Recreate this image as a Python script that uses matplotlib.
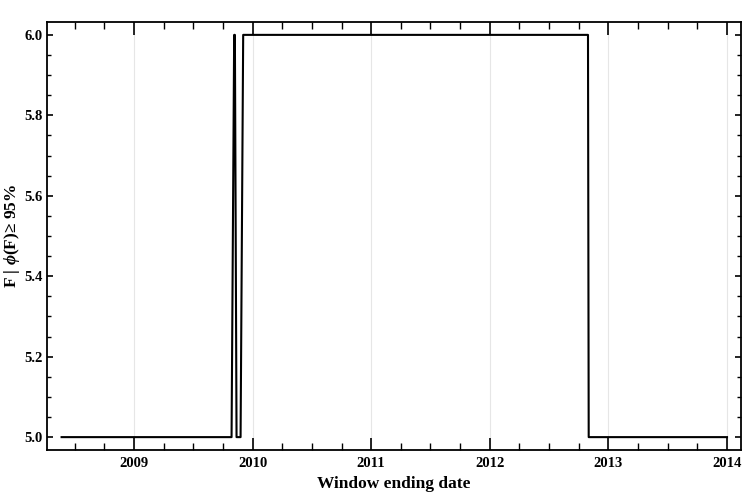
import matplotlib
matplotlib.use("Agg")
import matplotlib.pyplot as plt
from matplotlib.ticker import MultipleLocator

plt.rcParams['font.family'] = ['Liberation Serif', 'DejaVu Serif']
plt.rcParams['mathtext.fontset'] = 'custom'
plt.rcParams['mathtext.rm'] = 'Liberation Serif:bold'
plt.rcParams['mathtext.it'] = 'Liberation Serif:bold:italic'
plt.rcParams['mathtext.bf'] = 'Liberation Serif:bold'

# Window ending dates (decimal years) and F values at the step breakpoints
dates = [2008.39, 2009.823, 2009.845, 2009.851, 2009.865, 2009.899, 2009.921,
         2012.828, 2012.834, 2014.0]
values = [5, 5, 6, 6, 5, 5, 6, 6, 5, 5]

year_ticks = [2009, 2010, 2011, 2012, 2013, 2014]
y_ticks = [5.0, 5.2, 5.4, 5.6, 5.8, 6.0]

fig = plt.figure(figsize=(7.47, 4.98), dpi=100)
ax = fig.add_axes([47/747, 48/498, (741-47)/747, (450-22)/498])

for yr in year_ticks:
    ax.axvline(yr, color='#e6e6e6', lw=0.8, zorder=0)

ax.plot(dates, values, color='black', lw=1.5, zorder=3)

ax.set_xlim(2008.267, 2014.118)
ax.set_ylim(4.968, 6.032)
ax.set_xticks(year_ticks)
ax.set_xticklabels([str(y) for y in year_ticks])
ax.xaxis.set_minor_locator(MultipleLocator(0.25))
ax.set_yticks(y_ticks)
ax.set_yticklabels([f"{v:.1f}" for v in y_ticks])
ax.yaxis.set_minor_locator(MultipleLocator(0.05))

ax.tick_params(axis='x', which='major', direction='in', length=9, width=1.2,
               top=True, labelsize=10.5, pad=5)
ax.tick_params(axis='x', which='minor', direction='in', length=5, width=1.0, top=True)
ax.tick_params(axis='y', which='major', direction='in', length=4.5, width=1.2,
               right=True, labelsize=10.5, pad=3)
ax.tick_params(axis='y', which='minor', direction='in', length=2.8, width=1.0, right=True)
for lab in ax.get_xticklabels() + ax.get_yticklabels():
    lab.set_fontweight('bold')

for s in ax.spines.values():
    s.set_linewidth(1.3)

ax.set_xlabel("Window ending date", fontsize=12.5, fontweight='bold', labelpad=4)
fig.text(12/747, (498-236)/498, r"F | $\mathit{\phi}$(F)≥ 95%", rotation=90,
         ha='center', va='center', fontsize=12.5, fontweight='bold')

fig.savefig("out.png", dpi=100)
